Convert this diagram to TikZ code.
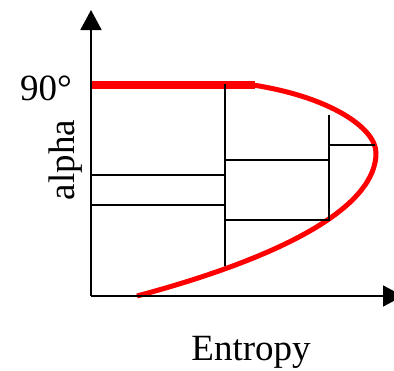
\documentclass[tikz,border=0pt]{standalone}
\usepackage{fontspec}
\setmainfont{Liberation Serif}
\usepackage{tikz}
\usetikzlibrary{arrows.meta}

\begin{document}
\begin{tikzpicture}[
  x=1pt, y=-1pt,
  font=\fontsize{37}{44}\selectfont,
  axis/.style={line width=1.8pt, -{Triangle[length=20pt,width=21pt]}},
  cell/.style={line width=1.6pt},
  curve/.style={draw=red, line width=5pt}]
\useasboundingbox (0,0) rectangle (394,370);

\coordinate (o) at (91,296);
\coordinate (ytop) at (91,10);
\coordinate (xend) at (403,296);

% red border of the region
\draw[curve, line width=8pt] (92,85) -- (255,85);
\draw[curve] (253,85)
  .. controls (330,97) and (376,128) .. (376,153)
  .. controls (376,205) and (290,255) .. (137,296);

% partition
\draw[cell] (225,84) -- (225,266);
\draw[cell] (329,115) -- (329,221);
\draw[cell] (329,145) -- (375,145);
\draw[cell] (225,160) -- (330,160);
\draw[cell] (225,220) -- (329,220);
\draw[cell] (91,175) -- (225,175);
\draw[cell] (91,205) -- (225,205);

% axes
\draw[axis] (o) -- (ytop);
\draw[axis] (o) -- (xend);

\node[anchor=base east, inner sep=0pt] (deg) at (72,100) {90\textdegree};
\node[rotate=90, anchor=base, inner sep=0pt] (ylab) at (74,160) {alpha};
\node[anchor=base, inner sep=0pt] (xlab) at (251,360) {Entropy};
\end{tikzpicture}
\end{document}
